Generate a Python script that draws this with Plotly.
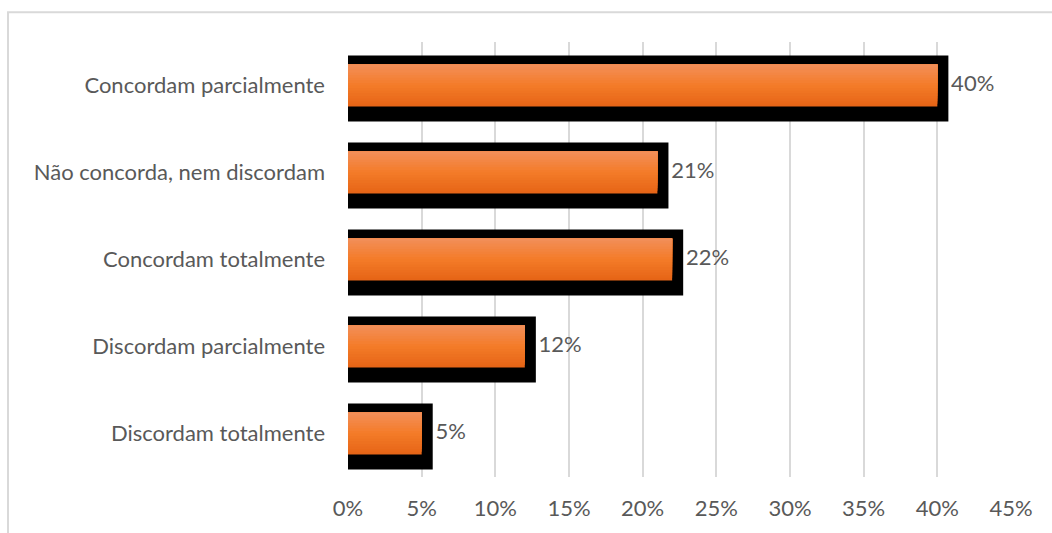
import plotly.graph_objects as go

# ---- data (top to bottom as in the chart) ----
categories = [
    "Concordam parcialmente",
    "Não concorda, nem discordam",
    "Concordam totalmente",
    "Discordam parcialmente",
    "Discordam totalmente",
]
values = [0.40, 0.21, 0.22, 0.12, 0.05]
tick_vals = [0, 0.05, 0.10, 0.15, 0.20, 0.25, 0.30, 0.35, 0.40, 0.45]

# ---- styling ----
FONT = "Lato"
FSIZE = 22
TXT = "#595959"
GRID = "#D9D9D9"
SHADOW_EXT = 0.0075          # black frame extends past the bar end
ORANGE_HALF = 0.241          # half height of orange bar (category units)

def lerp(c1, c2, t):
    return tuple(round(a + (b - a) * t) for a, b in zip(c1, c2))

bottom_c = (229, 100, 22)
mid_c = (244, 123, 40)
top_c = (242, 143, 90)

def grad_color(t):  # t: 0 bottom -> 1 top
    if t < 0.5:
        c = lerp(bottom_c, mid_c, t / 0.5)
    else:
        c = lerp(mid_c, top_c, (t - 0.5) / 0.5)
    return "rgb(%d,%d,%d)" % c

fig = go.Figure()

# black frame/shadow behind each bar
fig.add_trace(go.Bar(
    y=categories, x=[v + SHADOW_EXT for v in values], orientation="h",
    marker=dict(color="#000000", line=dict(width=0)),
    width=0.7564, offset=-0.4126, hoverinfo="skip", showlegend=False,
))

# orange gradient made from stacked slices
N = 16
total = 2 * ORANGE_HALF
step = total / N
for i in range(N):
    start = -ORANGE_HALF + i * step
    fig.add_trace(go.Bar(
        y=categories, x=values, orientation="h",
        marker=dict(color=grad_color((i + 0.5) / N), line=dict(width=0)),
        width=ORANGE_HALF - start, offset=start,
        hoverinfo="skip", showlegend=False,
    ))

# data labels
fig.add_trace(go.Scatter(
    y=categories, x=[v + SHADOW_EXT for v in values], mode="text",
    text=["\u2009%d%%" % round(v * 100) for v in values],
    textposition="middle right",
    textfont=dict(family=FONT, size=FSIZE, color=TXT),
    cliponaxis=False, hoverinfo="skip", showlegend=False,
))

fig.update_layout(
    width=1052, height=533,
    margin=dict(l=348, r=41, t=42, b=54),
    paper_bgcolor="white", plot_bgcolor="white",
    barmode="overlay", showlegend=False,
    font=dict(family=FONT, color=TXT, size=FSIZE),
    xaxis=dict(
        range=[0, 0.45], tickvals=tick_vals, tickformat=".0%",
        showgrid=True, gridcolor=GRID, gridwidth=2, zeroline=False,
        showline=False, ticks="", ticklabelstandoff=16,
        tickfont=dict(family=FONT, size=FSIZE, color=TXT),
    ),
    yaxis=dict(
        type="category", categoryorder="array",
        categoryarray=list(reversed(categories)),
        range=[-0.5, len(categories) - 0.5],
        showgrid=False, zeroline=False, showline=False, ticks="",
        ticklabelstandoff=22,
        tickfont=dict(family=FONT, size=FSIZE, color=TXT),
    ),
    shapes=[dict(
        type="rect", xref="paper", yref="paper",
        x0=-0.5128, x1=1.08, y0=-0.16, y1=1.0686,
        line=dict(color=GRID, width=2), fillcolor="rgba(0,0,0,0)", layer="below",
    )],
)

fig.write_html("out.html")
